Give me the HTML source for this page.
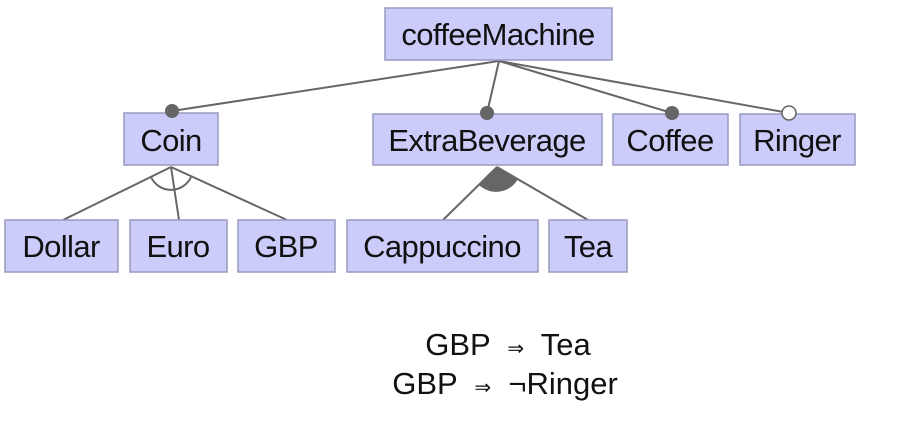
<!DOCTYPE html>
<html><head><meta charset="utf-8"><style>
html,body{margin:0;padding:0;background:#fff;}
svg{display:block;}
text{font-family:"Liberation Sans",sans-serif;font-size:31px;letter-spacing:-0.6px;fill:#111;}
text.c{letter-spacing:0;font-size:31px;}
rect{fill:#ccccfa;stroke:#9a9ac0;stroke-width:1.5;}
line,path.l{stroke:#666;stroke-width:2;fill:none;}
</style></head><body>
<svg width="900" height="422" viewBox="0 0 900 422">
<line x1="499" y1="61" x2="172" y2="111"/>
<line x1="499" y1="61" x2="487" y2="113"/>
<line x1="499" y1="61" x2="672" y2="113"/>
<line x1="499" y1="61" x2="789" y2="113"/>
<line x1="171" y1="167" x2="63" y2="220"/>
<line x1="171" y1="167" x2="179" y2="220"/>
<line x1="171" y1="167" x2="287" y2="220"/>
<path class="l" d="M151 177 A22 22 0 0 0 191 177"/>
<line x1="497" y1="167" x2="443" y2="220"/>
<line x1="497" y1="167" x2="588" y2="220"/>
<path d="M497 167 L479 185 A25 25 0 0 0 518 179 Z" fill="#666"/>
<rect x="385" y="8" width="227" height="52"/><text x="498" y="45" text-anchor="middle">coffeeMachine</text>
<rect x="124" y="113" width="94" height="52"/><text x="171" y="151" text-anchor="middle">Coin</text>
<rect x="373" y="114" width="229" height="51"/><text x="487" y="151" text-anchor="middle">ExtraBeverage</text>
<rect x="613" y="114" width="115" height="51"/><text x="670" y="151" text-anchor="middle">Coffee</text>
<rect x="740" y="114" width="115" height="51"/><text x="797" y="151" text-anchor="middle">Ringer</text>
<rect x="5" y="220" width="113" height="52"/><text x="61" y="257" text-anchor="middle">Dollar</text>
<rect x="130" y="220" width="97" height="52"/><text x="178" y="257" text-anchor="middle">Euro</text>
<rect x="238" y="220" width="97" height="52"/><text x="286" y="257" text-anchor="middle">GBP</text>
<rect x="347" y="220" width="191" height="52"/><text x="442" y="257" text-anchor="middle">Cappuccino</text>
<rect x="549" y="220" width="78" height="52"/><text x="588" y="257" text-anchor="middle">Tea</text>
<circle cx="172" cy="111" r="7" fill="#666"/>
<circle cx="487" cy="113" r="7" fill="#666"/>
<circle cx="672" cy="113" r="7" fill="#666"/>
<circle cx="789" cy="113" r="7" fill="#fff" stroke="#666" stroke-width="1.5"/>
<text class="c" x="508" y="355" text-anchor="middle" xml:space="preserve">GBP  <tspan font-size="20">⇒</tspan>  Tea</text>
<text class="c" x="505" y="394" text-anchor="middle" xml:space="preserve">GBP  <tspan font-size="20">⇒</tspan>  ¬Ringer</text>
</svg>
</body></html>
